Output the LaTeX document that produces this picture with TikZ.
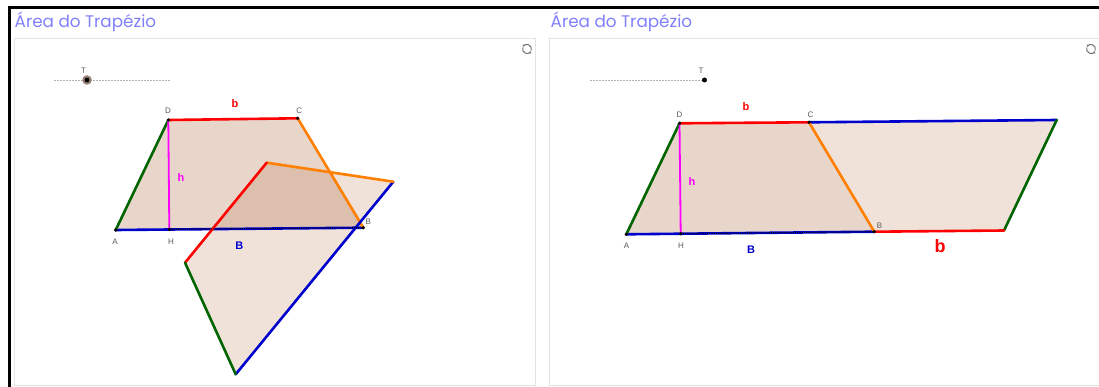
\documentclass[tikz,border=0pt]{standalone}
\usepackage{fontspec}
\setmainfont{Liberation Sans}
\newfontfamily\titlefont{Poppins}
\usetikzlibrary{arrows.meta,calc}
\definecolor{ggred}{RGB}{255,0,0}
\definecolor{gggreen}{RGB}{0,100,0}
\definecolor{ggorange}{RGB}{255,127,0}
\definecolor{ggblue}{RGB}{0,0,205}
\definecolor{ggmag}{RGB}{255,0,255}
\definecolor{ggtitle}{RGB}{128,128,255}
\definecolor{gglabel}{RGB}{90,90,90}
\definecolor{trapfill}{RGB}{232,214,202}
\definecolor{copyfill}{RGB}{155,62,2}
\definecolor{panelgray}{RGB}{228,228,228}
\definecolor{halo}{RGB}{150,125,115}
\begin{document}
\begin{tikzpicture}[x=1pt,y=-1pt,
  edge/.style={line width=2.6pt,line cap=round,line join=round},
  hline/.style={ggmag,line width=1.8pt},
  dotline/.style={black,line width=1.1pt,dash pattern=on 1pt off 1.2pt},
  vdot/.style={circle,fill=black,inner sep=0pt,minimum size=3.6pt},
  vlab/.style={text=gglabel,font=\fontsize{8}{9}\selectfont,inner sep=0pt},
  seglab/.style={font=\bfseries\fontsize{11}{12}\selectfont,inner sep=0pt},
  titlelab/.style={text=ggtitle,font=\titlefont\fontsize{16.8}{18}\selectfont,inner sep=0pt,anchor=base west},
  panel/.style={draw=panelgray,line width=1.4pt},
  slider/.style={draw=black!30,line width=0.8pt,dash pattern=on 1.5pt off 1.5pt},
  trapstyle/.style={fill=trapfill},
  copystyle/.style={fill=copyfill,fill opacity=0.15}
]
\useasboundingbox (0,0) rectangle (1099,387);
\fill[white] (0,0) rectangle (1099,387);
% outer black frame
\draw[line width=3pt] (9.5,387) -- (9.5,7.5) -- (1099,7.5);
% panels
\draw[panel] (14.5,38.5) rectangle (535.5,385.5);
\draw[panel] (1099,38.5) -- (549.5,38.5) -- (549.5,385.5) -- (1099,385.5);
% titles
\node[titlelab] (title1) at (14.5,28) {Área do Trapézio};
\node[titlelab] (title2) at (550.5,28) {Área do Trapézio};
% refresh icons
\foreach \cx/\nm in {527/r1,1091/r2}{
  \coordinate (\nm) at (\cx,49);
  \draw[black!55,line width=1pt,-{Stealth[length=2.2pt,width=3pt]}] (\nm) ++(20:4.5) arc[start angle=20,end angle=-150,radius=4.5];
  \draw[black!55,line width=1pt,-{Stealth[length=2.2pt,width=3pt]}] (\nm) ++(200:4.5) arc[start angle=200,end angle=30,radius=4.5];
}
% ================= LEFT PANEL =================
\coordinate (sl1a) at (54,80);
\coordinate (sl1b) at (171,80);
\draw[slider] (sl1a) -- (sl1b);
\node[circle,fill=halo,inner sep=0pt,minimum size=9.5pt] (T1halo) at (87,80) {};
\node[vdot,minimum size=4.8pt] (T1) at (87,80) {};
\node[vlab] (T1lab) at (83.5,71) {T};

\coordinate (A) at (115.7,230);
\coordinate (H) at (169.3,229.3);
\coordinate (B) at (363.3,227.7);
\coordinate (C) at (297.7,118.3);
\coordinate (D) at (168.3,120);
\coordinate (Cp) at (266.7,162.7);
\coordinate (Bp) at (393.3,181.7);
\coordinate (Ap) at (235.7,374.3);
\coordinate (Dp) at (185,262.7);

\fill[trapstyle] (A) -- (B) -- (C) -- (D) -- cycle;
\fill[copystyle] (Ap) -- (Bp) -- (Cp) -- (Dp) -- cycle;

\draw[edge,ggblue] (A) -- (B);
\draw[edge,ggorange] (B) -- (C);
\draw[edge,ggred] (C) -- (D);
\draw[edge,gggreen] (D) -- (A);
\draw[edge,ggblue] (Bp) -- (Ap);
\draw[edge,ggorange] (Cp) -- (Bp);
\draw[edge,ggred] (Dp) -- (Cp);
\draw[edge,gggreen] (Ap) -- (Dp);
\draw[hline] (D) -- (H);
\draw[dotline] (H) -- (B);

\foreach \p in {A,H,B,C,D}{\node[vdot] at (\p) {};}
\node[vlab] (Alab) at (115,241.7) {A};
\node[vlab] (Hlab) at (171,241.7) {H};
\node[vlab] (Blab) at (368.3,221.7) {B};
\node[vlab] (Clab) at (299.3,110.7) {C};
\node[vlab] (Dlab) at (168,110.7) {D};
\node[seglab,text=ggred] (blab1) at (235,103.5) {b};
\node[seglab,text=ggmag] (hlab1) at (181,177.3) {h};
\node[seglab,text=ggblue] (Bseg1) at (239.3,245.7) {B};

% ================= RIGHT PANEL =================
\coordinate (sl2a) at (590,80);
\coordinate (sl2b) at (704,80);
\draw[slider] (sl2a) -- (sl2b);
\node[vdot,minimum size=5pt] (T2) at (704.5,80) {};
\node[vlab] (T2lab) at (701,71) {T};

\coordinate (RA) at (626.3,234.3);
\coordinate (RH) at (680.7,233.7);
\coordinate (RB) at (874.3,231.7);
\coordinate (RC) at (809,122.3);
\coordinate (RD) at (679.5,123.3);
\coordinate (RAp) at (1056.7,120);
\coordinate (RDp) at (1004,230.5);

\fill[trapstyle] (RA) -- (RB) -- (RC) -- (RD) -- cycle;
\fill[copystyle] (RC) -- (RAp) -- (RDp) -- (RB) -- cycle;

\draw[edge,ggblue] (RA) -- (RB);
\draw[edge,ggred] (RC) -- (RD);
\draw[edge,gggreen] (RD) -- (RA);
\draw[edge,ggblue] (RC) -- (RAp);
\draw[edge,gggreen] (RAp) -- (RDp);
\draw[edge,ggred] (RDp) -- (RB);
\draw[edge,ggorange] (RB) -- (RC);
\draw[hline] (RD) -- (RH);
\draw[dotline] (RH) -- (RB);

\foreach \p in {RA,RH,RB,RC,RD}{\node[vdot] at (\p) {};}
\node[vlab] (RAlab) at (626.5,245.7) {A};
\node[vlab] (RHlab) at (681,245.7) {H};
\node[vlab] (RBlab) at (879.5,225.5) {B};
\node[vlab] (RClab) at (810.5,115) {C};
\node[vlab] (RDlab) at (679.5,115) {D};
\node[seglab,text=ggred] (blab2) at (746,106.5) {b};
\node[seglab,text=ggmag] (hlab2) at (692,182) {h};
\node[seglab,text=ggblue] (Bseg2) at (751,250) {B};
\node[font=\bfseries\fontsize{18}{20}\selectfont,text=ggred,inner sep=0pt] (bbig) at (940,246.5) {b};
\end{tikzpicture}
\end{document}
